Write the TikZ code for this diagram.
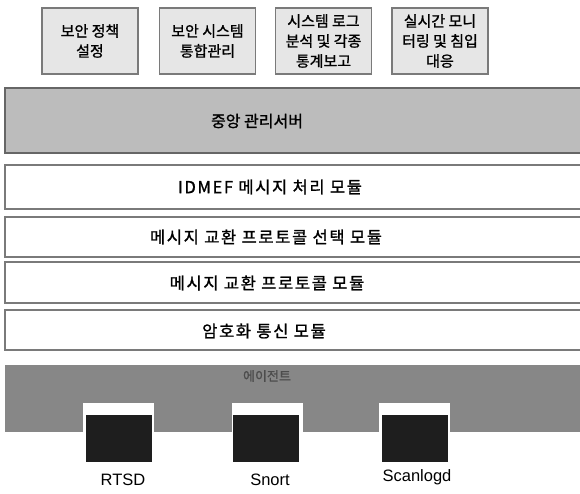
\documentclass[tikz,border=0pt]{standalone}
\usepackage{fontspec}
\setmainfont{Noto Sans CJK KR}[FakeBold=1.2]
\newfontfamily\labelfont{Liberation Sans}
\newfontfamily\modfont{Noto Sans CJK KR}[LetterSpace=10,FakeBold=1.2]
\usetikzlibrary{positioning}
\definecolor{boxgray}{HTML}{E6E6E6}
\definecolor{servergray}{HTML}{BCBCBC}
\definecolor{agentgray}{HTML}{878787}
\definecolor{edgegray}{HTML}{7A7A7A}
\definecolor{chipblack}{HTML}{1E1E1E}

\begin{document}
\begin{tikzpicture}[x=1pt,y=-1pt,
  topbox/.style={draw=edgegray,fill=boxgray,line width=1.3pt,minimum width=96pt,minimum height=66pt,
    inner sep=0pt,align=center,font=\fontsize{15}{20}\selectfont},
  layer/.style={draw=edgegray,line width=1.6pt},
  modtext/.style={font=\modfont\fontsize{16.5}{18}\selectfont},
  chip/.style={fill=chipblack,minimum width=66pt,minimum height=47pt,inner sep=0pt},
  notch/.style={fill=white,minimum width=71pt,minimum height=29pt,inner sep=0pt},
  agentname/.style={font=\labelfont\fontsize{16.5}{18}\selectfont}]
  \useasboundingbox (0,0) rectangle (580,493);
  \fill[white] (0,0) rectangle (580,493);

  % upper functions
  \node[topbox] (policy) at (90,41) {보안 정책\\설정};
  \node[topbox] (integ) at (207.5,41) {보안 시스템\\통합관리};
  \node[topbox] (report) at (323.5,41) {시스템 로그\\분석 및 각종\\통계보고};
  \node[topbox] (monitor) at (440,41) {실시간 모니\\터링 및 침입\\대응};

  % server and modules
  \draw[layer,draw=black!60,fill=servergray] (5,88) rectangle (586,153);
  \node[font=\fontsize{16}{18}\selectfont] (server) at (257,121) {중앙 관리서버};
  \draw[layer,fill=white] (5,165) rectangle (586,209);
  \node[modtext] (idmef) at (270,187) {IDMEF 메시지 처리 모듈};
  \draw[layer,fill=white] (5,217) rectangle (586,257);
  \node[modtext] (select) at (266,237) {메시지 교환 프로토콜 선택 모듈};
  \draw[layer,fill=white] (5,262) rectangle (586,303);
  \node[modtext] (proto) at (267,283) {메시지 교환 프로토콜 모듈};
  \draw[layer,fill=white] (5,310) rectangle (586,350);
  \node[modtext] (crypto) at (264,331) {암호화 통신 모듈};

  % agent band
  \fill[agentgray] (5,365) rectangle (586,432);
  \node[font=\fontsize{13}{14}\selectfont,text=black!70] (agent) at (267,376) {에이전트};
  \node[notch] (n1) at (118.5,417.5) {};
  \node[notch] (n2) at (267,417.5) {};
  \node[notch] (n3) at (414,417.5) {};
  \node[chip] (rtsd) at (119,438.5) {};
  \node[chip] (snort) at (266,438.5) {};
  \node[chip] (scan) at (414.5,438.5) {};
  \node[agentname] (rtsdname) at (123,480) {RTSD};
  \node[agentname] (snortname) at (270,480) {Snort};
  \node[agentname] (scanname) at (417,477) {Scanlogd};
\end{tikzpicture}
\end{document}
